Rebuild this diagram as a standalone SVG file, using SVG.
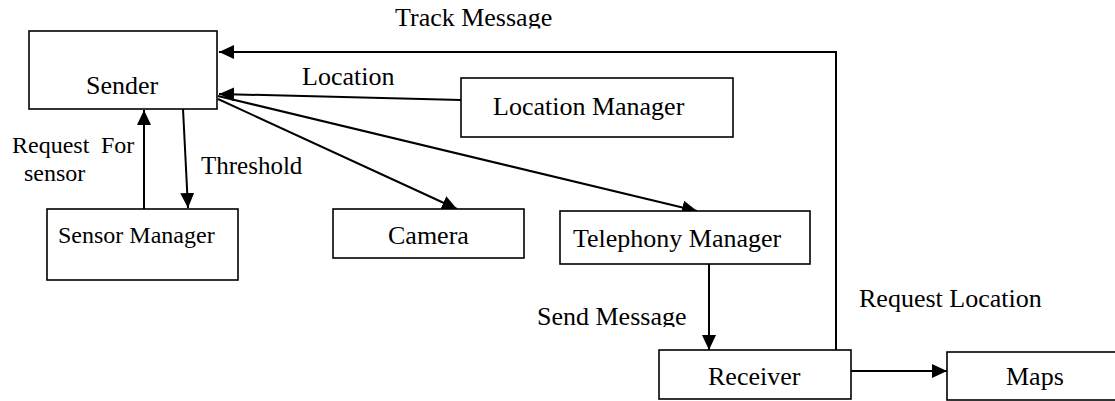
<svg xmlns="http://www.w3.org/2000/svg" width="1115" height="401" viewBox="0 0 1115 401">
  <style>
    .box { fill: #ffffff; stroke: #000000; stroke-width: 1.6; }
    .lbl { font-family: "Liberation Serif", "Times New Roman", serif; font-size: 26px; fill: #000000; }
    .sm { font-size: 24px; }
    .conn { fill: none; stroke: #000000; stroke-width: 2; }
  </style>
  <defs>
    <marker id="arrow" markerUnits="userSpaceOnUse" markerWidth="16" markerHeight="15" refX="15" refY="7" orient="auto">
      <path d="M0,0 L15,7 L0,14 z" fill="#000000"/>
    </marker>
    <clipPath id="clipTrack"><rect x="380" y="0" width="200" height="28.5"/></clipPath>
    <clipPath id="clipSend"><rect x="520" y="290" width="190" height="37"/></clipPath>
  </defs>

  <g id="connectors">
    <polyline class="conn" points="836,350 836,52 219,52" marker-end="url(#arrow)"/>
    <line class="conn" x1="461" y1="100" x2="219" y2="94" marker-end="url(#arrow)"/>
    <line class="conn" x1="218" y1="99" x2="457" y2="209" marker-end="url(#arrow)"/>
    <line class="conn" x1="218" y1="96" x2="697" y2="211" marker-end="url(#arrow)"/>
    <line class="conn" x1="144" y1="209" x2="144" y2="110" marker-end="url(#arrow)"/>
    <line class="conn" x1="183" y1="109" x2="188" y2="208" marker-end="url(#arrow)"/>
    <line class="conn" x1="709" y1="264" x2="709" y2="350" marker-end="url(#arrow)"/>
    <line class="conn" x1="851" y1="371" x2="947" y2="371" marker-end="url(#arrow)"/>
  </g>

  <g id="connector-labels">
    <text class="lbl" x="395" y="26" clip-path="url(#clipTrack)">Track Message</text>
    <text class="lbl" x="302" y="85">Location</text>
    <text class="lbl sm"><tspan x="12" y="153">Request</tspan><tspan x="101" y="153">For</tspan></text>
    <text class="lbl sm" x="24" y="181">sensor</text>
    <text class="lbl" x="201" y="174" style="font-size:25px">Threshold</text>
    <text class="lbl" x="537" y="325" clip-path="url(#clipSend)">Send Message</text>
    <text class="lbl" x="859" y="307">Request Location</text>
  </g>

  <g id="sender">
    <rect class="box" x="29" y="31" width="188" height="78"/>
    <text class="lbl" x="86" y="94">Sender</text>
  </g>
  <g id="location-manager">
    <rect class="box" x="461" y="78" width="272" height="59"/>
    <text class="lbl" x="493" y="115">Location Manager</text>
  </g>
  <g id="sensor-manager">
    <rect class="box" x="47" y="209" width="191" height="71"/>
    <text class="lbl sm" x="58" y="243">Sensor Manager</text>
  </g>
  <g id="camera">
    <rect class="box" x="333" y="209" width="191" height="49"/>
    <text class="lbl" x="388" y="244">Camera</text>
  </g>
  <g id="telephony-manager">
    <rect class="box" x="560" y="211" width="250" height="53"/>
    <text class="lbl" x="573" y="247">Telephony Manager</text>
  </g>
  <g id="receiver">
    <rect class="box" x="659" y="350" width="192" height="49"/>
    <text class="lbl" x="708" y="385">Receiver</text>
  </g>
  <g id="maps">
    <rect class="box" x="947" y="352" width="172" height="48"/>
    <text class="lbl" x="1006" y="385">Maps</text>
  </g>
</svg>
